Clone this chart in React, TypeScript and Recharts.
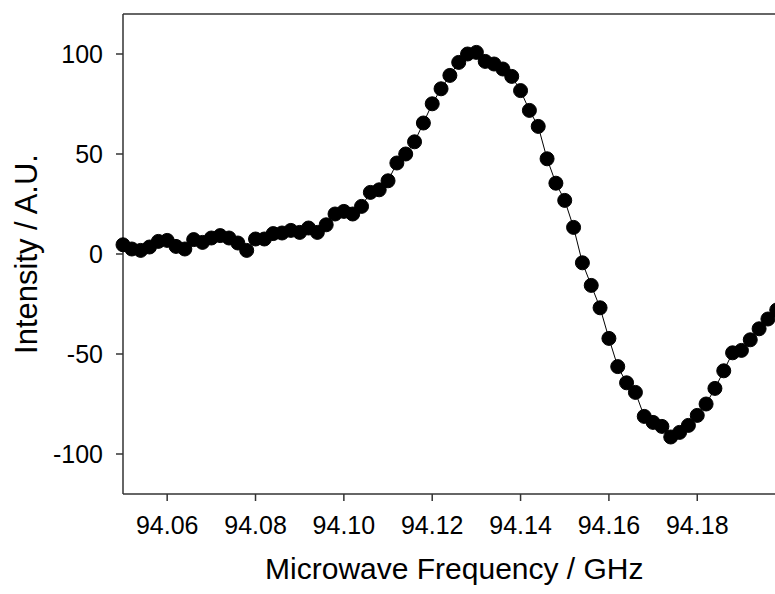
import React from 'react';
import { LineChart, Line, XAxis, YAxis, ReferenceLine } from 'recharts';

const frequency: number[] = [
  94.05, 94.052, 94.054, 94.056, 94.058, 94.06, 94.062, 94.064, 94.066, 94.068,
  94.07, 94.072, 94.074, 94.076, 94.078, 94.08, 94.082, 94.084, 94.086, 94.088,
  94.09, 94.092, 94.094, 94.096, 94.098, 94.1, 94.102, 94.104, 94.106, 94.108,
  94.11, 94.112, 94.114, 94.116, 94.118, 94.12, 94.122, 94.124, 94.126, 94.128,
  94.13, 94.132, 94.134, 94.136, 94.138, 94.14, 94.142, 94.144, 94.146, 94.148,
  94.15, 94.152, 94.154, 94.156, 94.158, 94.16, 94.162, 94.164, 94.166, 94.168,
  94.17, 94.172, 94.174, 94.176, 94.178, 94.18, 94.182, 94.184, 94.186, 94.188,
  94.19, 94.192, 94.194, 94.196, 94.198,
];

const intensity: number[] = [
  4.6, 2.5, 1.8, 3.5, 6.3, 6.8, 3.8, 2.5, 7.2, 5.8,
  8, 9.2, 8, 5.5, 1.8, 7.5, 7.5, 10.2, 10.5, 11.8,
  10.8, 13, 10.8, 14.6, 20, 21.3, 20, 23.8, 30.8, 32.1,
  36.6, 45.5, 50, 56.1, 65.5, 75.1, 82.6, 89.3, 95.8, 100,
  100.8, 96.3, 95, 92.5, 88.8, 81.7, 71.8, 63.8, 47.6, 35.4,
  26.8, 13.3, -4.4, -15.7, -26.9, -42.2, -56.3, -64.4, -69.2, -81.2,
  -84.2, -86.2, -91.5, -89.2, -85.7, -80.7, -75, -67.2, -58.4, -49.4,
  -48.2, -42.9, -37.4, -32.5, -28,
];

const xTicks = [94.06, 94.08, 94.1, 94.12, 94.14, 94.16, 94.18];
const yTicks = [-100, -50, 0, 50, 100];

const data = frequency.map((f, i) => ({ f, v: intensity[i] }));

const font = '"Liberation Sans", Arial, sans-serif';
const axisColor = '#333';

export default function App() {
  return (
    <div style={{ position: 'fixed', left: 0, top: 0, width: 775, height: 594, overflow: 'hidden', background: '#fff' }}>
      <LineChart
        width={800}
        height={594}
        data={data}
        margin={{ top: 14, right: 14.4, bottom: 10, left: 0 }}
        style={{ fontFamily: font }}
      >
        <XAxis
          dataKey="f"
          type="number"
          domain={[94.05, 94.2]}
          ticks={xTicks}
          tickFormatter={(v: number) => v.toFixed(2)}
          height={90}
          tickSize={7}
          tickMargin={15}
          stroke={axisColor}
          strokeWidth={1.5}
          tick={{ fill: '#000', fontSize: 25, fontFamily: font }}
          label={{ value: 'Microwave Frequency / GHz', position: 'insideBottom', offset: 5, fill: '#000', fontSize: 30, fontFamily: font }}
        />
        <YAxis
          type="number"
          domain={[-120, 120]}
          ticks={yTicks}
          width={123}
          tickSize={7}
          tickMargin={13}
          stroke={axisColor}
          strokeWidth={1.5}
          tick={{ fill: '#000', fontSize: 25, fontFamily: font }}
          label={{ value: 'Intensity / A.U.', angle: -90, position: 'insideLeft', offset: 26, fill: '#000', fontSize: 31, fontFamily: font, style: { textAnchor: 'middle' } }}
        />
        <ReferenceLine y={120} stroke={axisColor} strokeWidth={1.5} />
        <Line
          type="linear"
          dataKey="v"
          stroke="#000"
          strokeWidth={1}
          dot={{ r: 7, fill: '#000', stroke: '#000', strokeWidth: 1 }}
          isAnimationActive={false}
        />
      </LineChart>
    </div>
  );
}
